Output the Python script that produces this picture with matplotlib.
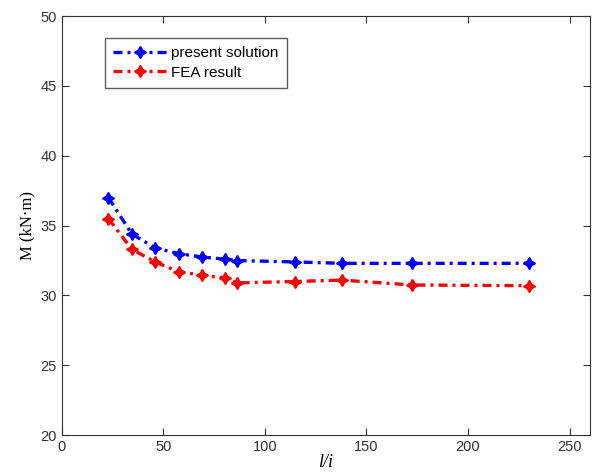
import matplotlib
matplotlib.use("Agg")
import matplotlib.pyplot as plt

x_vals = [23, 34.5, 46, 57.5, 69, 80.5, 86.25, 115, 138, 172.5, 230]
present = [37.0, 34.4, 33.4, 33.0, 32.75, 32.6, 32.5, 32.4, 32.3, 32.3, 32.3]
fea = [35.5, 33.3, 32.4, 31.7, 31.45, 31.25, 30.9, 31.0, 31.1, 30.75, 30.7]
xticks = [0, 50, 100, 150, 200, 250]
yticks = [20, 25, 30, 35, 40, 45, 50]

fig = plt.figure(figsize=(5.94, 4.72), dpi=100)
ax = fig.add_axes([0.104, 0.078, 0.889, 0.888])
dash = (2.7, 1.5, 0.9, 1.5)
ax.plot(x_vals, present, color='#0000ff', linestyle=(0, dash), linewidth=2.4,
        marker=(4, 1, 0), markersize=8.5, markeredgewidth=1.2, label='present solution')
ax.plot(x_vals, fea, color='#ff0000', linestyle=(0, dash), linewidth=2.4,
        marker=(4, 1, 0), markersize=8.5, markeredgewidth=1.2, label='FEA result')
ax.set_xlim(0, 260)
ax.set_ylim(20, 50)
ax.set_xticks(xticks)
ax.set_yticks(yticks)
ax.tick_params(direction='in', labelsize=10.5, labelcolor='#333333', length=5,
               top=True, right=True, color='#333333')
for lab in ax.get_xticklabels() + ax.get_yticklabels():
    lab.set_family('Liberation Sans')
for s in ax.spines.values():
    s.set_color('#333333')
ax.set_xlabel('l/i', fontsize=13, family='Liberation Serif', style='italic', labelpad=0)
ax.set_ylabel('M (kN·m)', fontsize=12, family='Liberation Serif', labelpad=4)
leg = ax.legend(loc='upper left', bbox_to_anchor=(0.081, 0.948), fancybox=False,
                prop={'family': 'Liberation Sans', 'size': 11}, handlelength=3.6,
                borderpad=0.55, labelspacing=0.35, handletextpad=0.2,
                borderaxespad=0)
leg.get_frame().set_edgecolor('#333333')
leg.get_frame().set_linewidth(1.0)
fig.savefig('out.png', dpi=100)
